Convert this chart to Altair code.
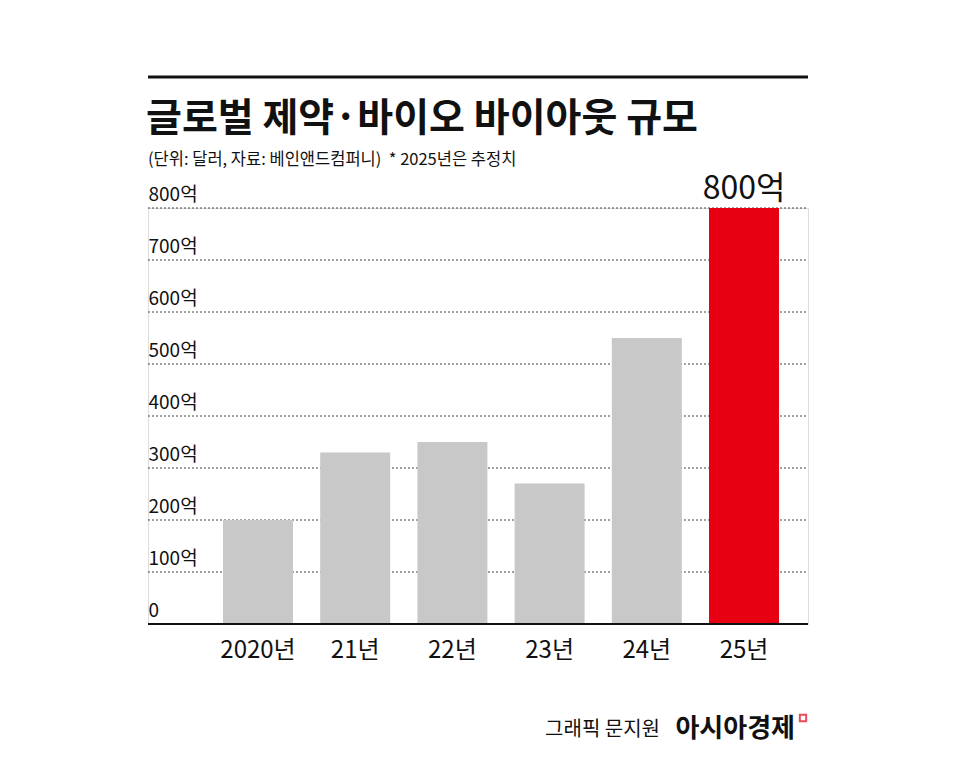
import altair as alt
import pandas as pd

FONT = "Noto Sans CJK KR"

# --- data ---
years = ["2020년", "21년", "22년", "23년", "24년", "25년"]
values = [200, 330, 350, 270, 550, 800]  # 억 달러
bar_colors = ["#c8c8c8", "#c8c8c8", "#c8c8c8", "#c8c8c8", "#c8c8c8", "#e60012"]
ticks = [0, 100, 200, 300, 400, 500, 600, 700, 800]

title = "글로벌 제약·바이오 바이아웃 규모"
subtitle = "(단위: 달러, 자료: 베인앤드컴퍼니)\u00a0\u00a0* 2025년은 추정치"
credit = "그래픽 문지원"
brand = "아시아경제"

df = pd.DataFrame({"year": years, "value": values, "color": bar_colors})
grid_df = pd.DataFrame({"v": ticks[1:]})
one = pd.DataFrame({"k": [0]})

W, H = 660, 416

bars = (
    alt.Chart(df)
    .mark_bar()
    .encode(
        x=alt.X(
            "year:N",
            sort=years,
            title=None,
            scale=alt.Scale(range=[75, 631], paddingInner=0.28, paddingOuter=0),
            axis=alt.Axis(
                ticks=False,
                domain=False,
                labelFont=FONT,
                labelFontSize=24,
                labelColor="#111",
                labelPadding=14,
                labelAngle=0,
            ),
        ),
        y=alt.Y(
            "value:Q",
            title=None,
            scale=alt.Scale(domain=[0, 800], nice=False),
            axis=alt.Axis(
                values=ticks,
                labelExpr="datum.value == 0 ? '0' : datum.value + '억'",
                ticks=False,
                domain=False,
                grid=False,
                labelAlign="left",
                labelBaseline="bottom",
                labelPadding=0,
                labelOffset=-4,
                labelFont=FONT,
                labelFontSize=19,
                labelColor="#111",
            ),
        ),
        color=alt.Color("color:N", scale=None),
    )
)

grid = alt.Chart(grid_df).mark_rule(color="#444", strokeWidth=1, strokeDash=[2, 2]).encode(
    y="v:Q", x=alt.value(0), x2=alt.value(W)
)

peak = (
    alt.Chart(df[df["year"] == "25년"])
    .mark_text(font=FONT, fontSize=32, baseline="bottom", dy=-2, color="#111")
    .encode(
        x=alt.X("year:N", sort=years),
        y="value:Q",
        text=alt.Text("label:N"),
    )
    .transform_calculate(label="datum.value + '억'")
)

baseline = alt.Chart(one).mark_rule(color="#111", strokeWidth=2).encode(
    y=alt.datum(0), x=alt.value(0), x2=alt.value(W)
)

top_rule = alt.Chart(one).mark_rule(color="#111", strokeWidth=3).encode(
    y=alt.value(-131), x=alt.value(0), x2=alt.value(W)
)

title_txt = alt.Chart(one).mark_text(
    font=FONT, fontSize=39, fontWeight="bold", align="left", baseline="alphabetic", color="#111"
).encode(x=alt.value(-2), y=alt.value(-77), text=alt.value(title))

sub_txt = alt.Chart(one).mark_text(
    font=FONT, fontSize=16.5, align="left", baseline="alphabetic", color="#111"
).encode(x=alt.value(0), y=alt.value(-43), text=alt.value(subtitle))

credit_txt = alt.Chart(one).mark_text(
    font=FONT, fontSize=20, align="right", baseline="alphabetic", color="#111"
).encode(x=alt.value(512), y=alt.value(528), text=alt.value(credit))

brand_txt = alt.Chart(one).mark_text(
    font=FONT, fontSize=26, fontWeight="bold", align="right", baseline="alphabetic", color="#111"
).encode(x=alt.value(647), y=alt.value(529), text=alt.value(brand))

logo = alt.Chart(one).mark_point(
    shape="square", filled=False, color="#e60012", strokeWidth=2, size=40
).encode(x=alt.value(655), y=alt.value(510))

chart = (
    alt.layer(grid, bars, baseline, peak, top_rule, title_txt, sub_txt, credit_txt, brand_txt, logo)
    .properties(
        width=W,
        height=H,
        autosize=alt.AutoSizeParams(type="none"),
        padding={"left": 140, "top": 200, "right": 130, "bottom": 120},
    )
    .configure_view(stroke=None)
    .configure(background="white")
)

chart.save("out.html", embed_options={"renderer": "svg", "actions": False})
